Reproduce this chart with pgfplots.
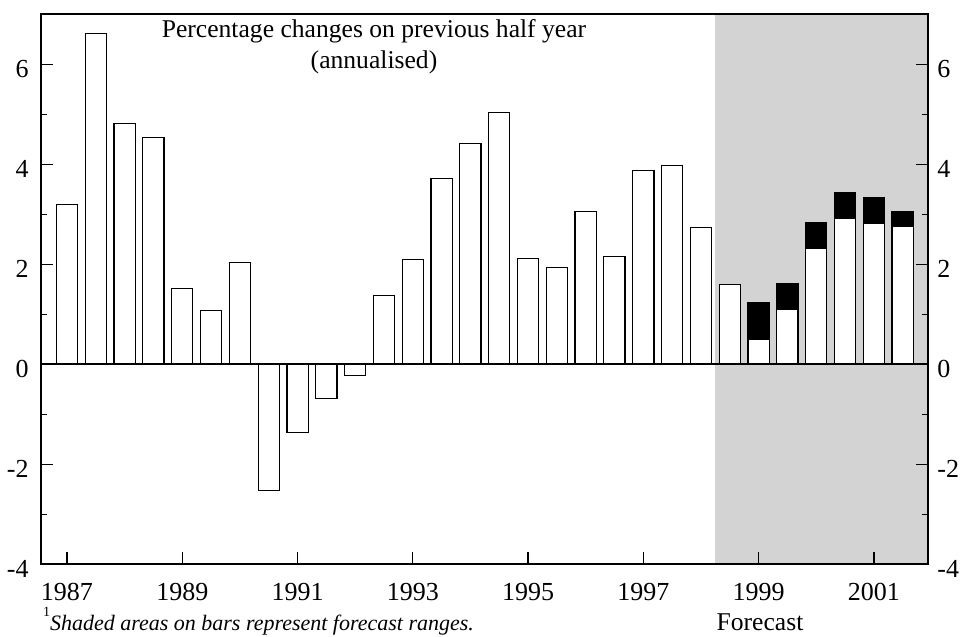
\documentclass[border=0pt]{standalone}
\usepackage{pgfplots}
\pgfplotsset{compat=1.18}
\usepackage{fontspec}
\setmainfont{Liberation Serif}
\definecolor{fcgray}{RGB}{211,211,211}

\pgfplotstableread{
x v
1987.0 3.20
1987.5 6.61
1988.0 4.82
1988.5 4.53
1989.0 1.51
1989.5 1.07
1990.0 2.03
1990.5 -2.53
1991.0 -1.37
1991.5 -0.69
1992.0 -0.23
1992.5 1.37
1993.0 2.10
1993.5 3.71
1994.0 4.42
1994.5 5.03
1995.0 2.12
1995.5 1.94
1996.0 3.05
1996.5 2.16
1997.0 3.88
1997.5 3.97
1998.0 2.73
1998.5 1.60
}\actual

\pgfplotstableread{
x low high
1999.0 0.49 1.23
1999.5 1.09 1.61
2000.0 2.31 2.83
2000.5 2.91 3.44
2001.0 2.81 3.34
2001.5 2.75 3.05
}\forecast

\begin{document}
\begin{tikzpicture}
\begin{axis}[
  scale only axis, width=443.5pt, height=275pt,
  xmin=1986.549, xmax=2001.94, ymin=-4, ymax=7,
  axis on top,
  axis line style={line width=0.9pt},
  xtick={1987,1989,...,2001},
  xticklabels={1987,1989,1991,1993,1995,1997,1999,2001},
  minor x tick num=3,
  ytick={-4,-2,0,2,4,6},
  yticklabels={-4,-2,0,2,4,6},
  minor y tick num=1,
  xtick pos=bottom, ytick pos=left,
  tick align=inside,
  major tick length=6pt, minor tick length=3pt,
  tick style={black, line width=0.7pt},
  tick label style={font=\fontsize{13}{15}\selectfont},
  xticklabel style={anchor=north, inner sep=0pt, yshift=-9.3pt},
  yticklabel style={anchor=east, inner sep=0pt, xshift=-6pt, yshift=-2.5pt},
]
\fill[fcgray] (axis cs:1998.25,-4) rectangle (axis cs:2001.94,7);
\addplot[ybar, bar width=10.6pt, bar shift=0pt, fill=white, draw=black, line width=0.6pt] table[x=x, y=v] {\actual};
\addplot[ybar, bar width=10.6pt, bar shift=0pt, fill=black, draw=black, line width=0.6pt] table[x=x, y=high] {\forecast};
\addplot[ybar, bar width=10.6pt, bar shift=0pt, fill=white, draw=black, line width=0.6pt] table[x=x, y=low] {\forecast};
\draw[line width=0.9pt] (axis cs:1986.549,0) -- (axis cs:2001.94,0);
\end{axis}
\begin{axis}[
  scale only axis, width=443.5pt, height=275pt,
  xmin=1986.549, xmax=2001.94, ymin=-4, ymax=7,
  axis x line=none, axis y line*=right,
  axis line style={line width=0.9pt, -},
  ytick={-4,-2,0,2,4,6},
  yticklabels={-4,-2,0,2,4,6},
  minor y tick num=1,
  tick align=inside,
  major tick length=6pt, minor tick length=3pt,
  tick style={black, line width=0.7pt},
  tick label style={font=\fontsize{13}{15}\selectfont},
  yticklabel style={anchor=west, inner sep=0pt, xshift=4.5pt, yshift=-2.5pt},
]
\end{axis}
\node[anchor=base, inner sep=0pt, font=\fontsize{12.8}{15}\selectfont] at (166.5pt,263.4pt) {Percentage changes on previous half year};
\node[anchor=base, inner sep=0pt, font=\fontsize{12.8}{15}\selectfont] at (166.5pt,248pt) {(annualised)};
\node[anchor=base, inner sep=0pt, font=\fontsize{12.8}{15}\selectfont] at (359.5pt,-33.2pt) {Forecast};
\node[anchor=base west, inner sep=0pt] at (0.85pt,-33.2pt) {\raisebox{7pt}{\fontsize{7}{8}\selectfont 1}\fontsize{11}{13}\selectfont\itshape Shaded areas on bars represent forecast ranges.};
\pgfresetboundingbox
\path (-20.5pt,-35.85pt) rectangle (460.5pt,282.15pt);
\end{tikzpicture}
\end{document}
